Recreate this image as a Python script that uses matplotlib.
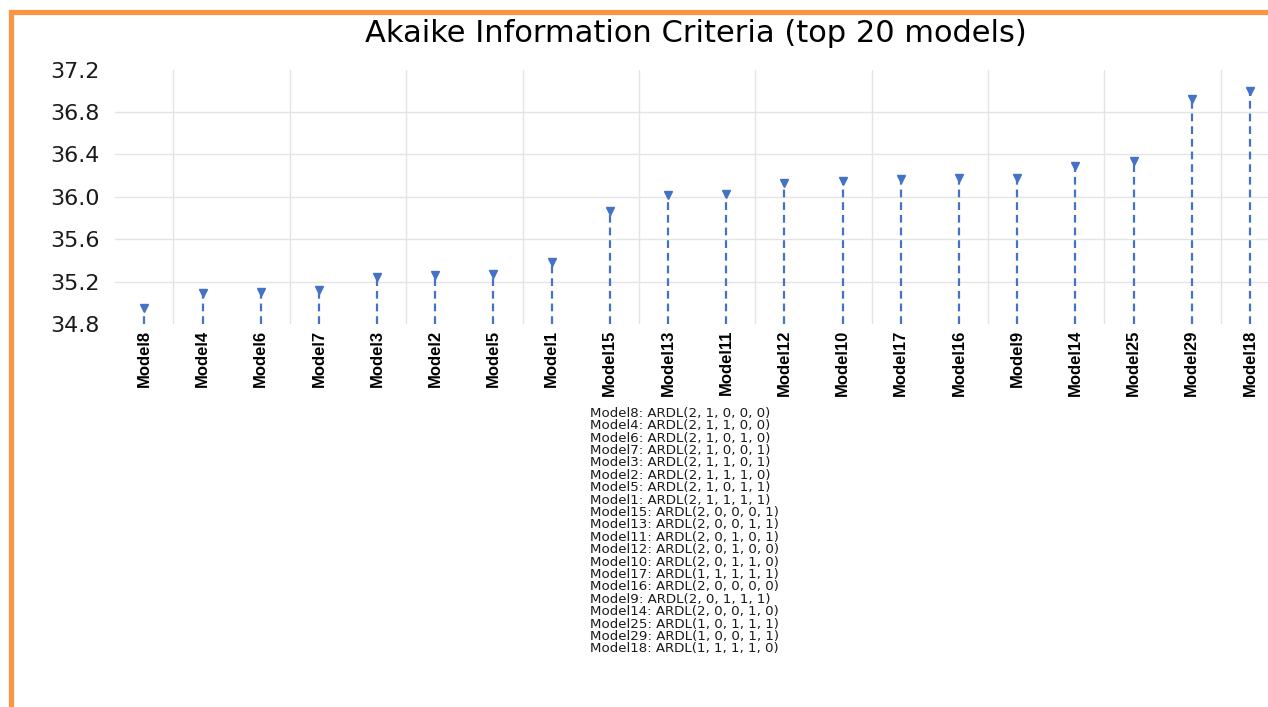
import matplotlib.pyplot as plt
from matplotlib.patches import Rectangle

# AIC values for the 20 best ARDL specifications (ascending)
models = ["Model8", "Model4", "Model6", "Model7", "Model3", "Model2", "Model5",
          "Model1", "Model15", "Model13", "Model11", "Model12", "Model10",
          "Model17", "Model16", "Model9", "Model14", "Model25", "Model29",
          "Model18"]
aic = [34.95, 35.09, 35.10, 35.12, 35.24, 35.26, 35.27, 35.39, 35.87, 36.02,
       36.03, 36.13, 36.15, 36.17, 36.175, 36.18, 36.29, 36.34, 36.92, 37.00]
specs = ["ARDL(2, 1, 0, 0, 0)", "ARDL(2, 1, 1, 0, 0)", "ARDL(2, 1, 0, 1, 0)",
         "ARDL(2, 1, 0, 0, 1)", "ARDL(2, 1, 1, 0, 1)", "ARDL(2, 1, 1, 1, 0)",
         "ARDL(2, 1, 0, 1, 1)", "ARDL(2, 1, 1, 1, 1)", "ARDL(2, 0, 0, 0, 1)",
         "ARDL(2, 0, 0, 1, 1)", "ARDL(2, 0, 1, 0, 1)", "ARDL(2, 0, 1, 0, 0)",
         "ARDL(2, 0, 1, 1, 0)", "ARDL(1, 1, 1, 1, 1)", "ARDL(2, 0, 0, 0, 0)",
         "ARDL(2, 0, 1, 1, 1)", "ARDL(2, 0, 0, 1, 0)", "ARDL(1, 0, 1, 1, 1)",
         "ARDL(1, 0, 0, 1, 1)", "ARDL(1, 1, 1, 1, 0)"]
yticks = [34.8, 35.2, 35.6, 36.0, 36.4, 36.8, 37.2]

BLUE = "#4472C4"
ORANGE = "#F79646"

fig = plt.figure(figsize=(12.68, 7.07), dpi=100)
ax = fig.add_axes([0.0909, 0.5416, 0.9091, 0.36])

x = list(range(len(models)))
ax.set_xlim(-0.5, 19.31)
ax.set_ylim(yticks[0], yticks[-1])
base = ax.get_ylim()[0]

# drop lines from the axis floor up to each AIC value
ax.vlines(x, base, aic, colors=BLUE, linewidth=1.6,
          linestyles=(0, (3.5, 2.2)), zorder=3)
ax.plot(x, aic, linestyle="none", marker="v", markersize=6,
        color=BLUE, zorder=4)

# gridlines
ax.set_yticks(yticks)
ax.set_yticklabels([f"{v:.1f}" for v in yticks])
for v in yticks[1:-1]:
    ax.axhline(v, color="#E4E4E4", linewidth=1.0, zorder=1)
for xv in [i + 0.5 for i in range(0, len(models) - 1, 2)]:
    ax.axvline(xv, color="#E4E4E4", linewidth=1.0, zorder=1)

ax.set_xticks(x)
ax.set_xticklabels(models, rotation=90, va="top", ha="center",
                   family="Liberation Sans", fontsize=12, weight="bold",
                   color="black")
ax.tick_params(axis="both", length=0)
ax.tick_params(axis="y", pad=11, labelsize=16, labelcolor="#1a1a1a")
ax.tick_params(axis="x", pad=4)
for s in ax.spines.values():
    s.set_visible(False)

fig.text(0.549, 0.953, "Akaike Information Criteria (top 20 models)",
         ha="center", va="center", fontsize=22, color="black")

# model key below the chart
key = "\n".join(f"{m}: {s}" for m, s in zip(models, specs))
fig.text(0.4653, 0.4245, key, ha="left", va="top", fontsize=9.6,
         linespacing=0.94, color="#1a1a1a")

# orange frame
fig.patches.append(Rectangle((10.5 / 1268, -0.1), 1.2, 0.1 + 1 - 12.5 / 707,
                             transform=fig.transFigure, fill=False,
                             edgecolor=ORANGE, linewidth=3.8, zorder=10))

fig.savefig("out.png", dpi=100)
